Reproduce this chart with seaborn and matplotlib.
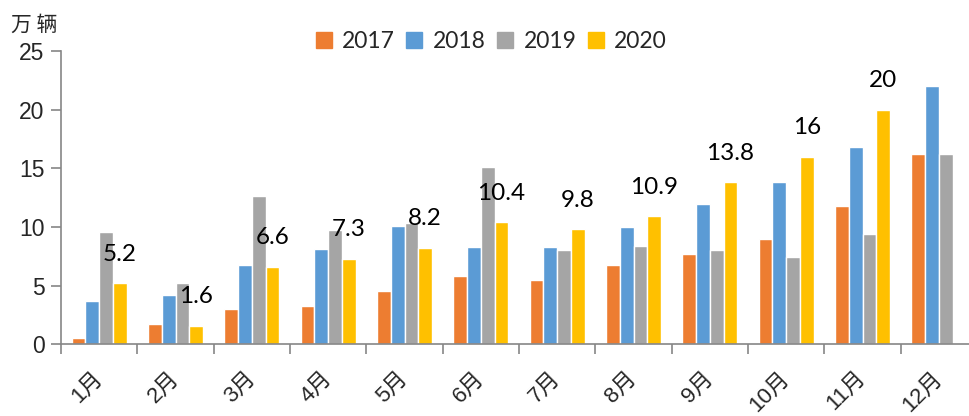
import numpy as np
import pandas as pd
import matplotlib
matplotlib.use("Agg")
import matplotlib.pyplot as plt
import matplotlib.transforms as mtransforms
import seaborn as sns

months = ["1月", "2月", "3月", "4月", "5月", "6月", "7月", "8月", "9月", "10月", "11月", "12月"]
years = ["2017", "2018", "2019", "2020"]
sales_2017 = [0.5, 1.7, 3.0, 3.3, 4.5, 5.8, 5.5, 6.8, 7.7, 9.0, 11.8, 16.2]
sales_2018 = [3.7, 4.2, 6.8, 8.1, 10.1, 8.3, 8.3, 10.0, 12.0, 13.8, 16.8, 22.0]
sales_2019 = [9.6, 5.2, 12.6, 9.7, 10.3, 15.1, 8.0, 8.4, 8.0, 7.4, 9.4, 16.2]
sales_2020 = [5.2, 1.6, 6.6, 7.3, 8.2, 10.4, 9.8, 10.9, 13.8, 16.0, 20.0, np.nan]
colors = ["#ED7D31", "#5B9BD5", "#A5A5A5", "#FFC000"]
yticks = [0, 5, 10, 15, 20, 25]

series = [sales_2017, sales_2018, sales_2019, sales_2020]
df = pd.DataFrame({
    "month": np.tile(months, len(years)),
    "year": np.repeat(years, len(months)),
    "value": np.concatenate(series),
})

sns.set_style("white")
plt.rcParams["font.family"] = ["Lato", "Noto Sans CJK SC", "DejaVu Sans"]
tick_family = ["Liberation Sans", "Noto Sans CJK SC", "DejaVu Sans"]

fig = plt.figure(figsize=(9.69, 4.16), dpi=100)
ax = fig.add_axes([0.063, 0.1724, 0.9453, 0.705])

sns.barplot(data=df, x="month", y="value", hue="year", order=months,
            hue_order=years, palette=colors, width=0.72, saturation=1,
            gap=0, errorbar=None, ax=ax, legend=True)

# value labels above the 2020 bars
for patch, v in zip(ax.containers[3], [v for v in sales_2020 if not np.isnan(v)]):
    cx = patch.get_x() + patch.get_width() / 2
    ax.annotate(f"{v:g}", xy=(cx, v), xytext=(0, 21), textcoords="offset points",
                ha="center", va="center", fontsize=17.5, color="black")

axis_grey = "#868686"
ax.set_xlim(-0.5, 11.5)
ax.set_ylim(0, 25)
ax.set_yticks(yticks)
ax.set_yticklabels([str(t) for t in yticks], fontsize=16.5, family=tick_family)
ax.tick_params(axis="y", length=7, width=1.2, color=axis_grey, pad=5, left=True)

ax.set_xticks(range(len(months)))
ax.set_xticklabels(months, fontsize=16, rotation=45, ha="right", va="center",
                   rotation_mode="anchor", family=tick_family)
shift = mtransforms.ScaledTranslation(-9 / 100, -3 / 100, fig.dpi_scale_trans)
for lbl in ax.get_xticklabels():
    lbl.set_transform(lbl.get_transform() + shift)
ax.set_xticks(np.arange(-0.5, 12, 1), minor=True)
ax.tick_params(axis="x", which="major", length=0, pad=22)
ax.tick_params(axis="x", which="minor", length=7.5, width=1.2, color=axis_grey,
               bottom=True, direction="out")

ax.set_xlabel("")
ax.set_ylabel("")
for side in ["top", "right"]:
    ax.spines[side].set_visible(False)
for side in ["left", "bottom"]:
    ax.spines[side].set_color(axis_grey)
    ax.spines[side].set_linewidth(1.2)

ax.legend_.remove()
handles = [plt.Rectangle((0, 0), 1, 1, color=c) for c in colors]
fig.legend(handles, years, loc="center", bbox_to_anchor=(0.507, 0.901),
           ncol=4, frameon=False, fontsize=16.5, handlelength=0.7,
           handleheight=0.7, handletextpad=0.45, columnspacing=0.5)

fig.text(11 / 969, 1 - 14 / 416, "万 辆", fontsize=15, ha="left", va="top",
         family=["Noto Sans CJK SC", "DejaVu Sans"])

fig.savefig("out.png", dpi=100)
